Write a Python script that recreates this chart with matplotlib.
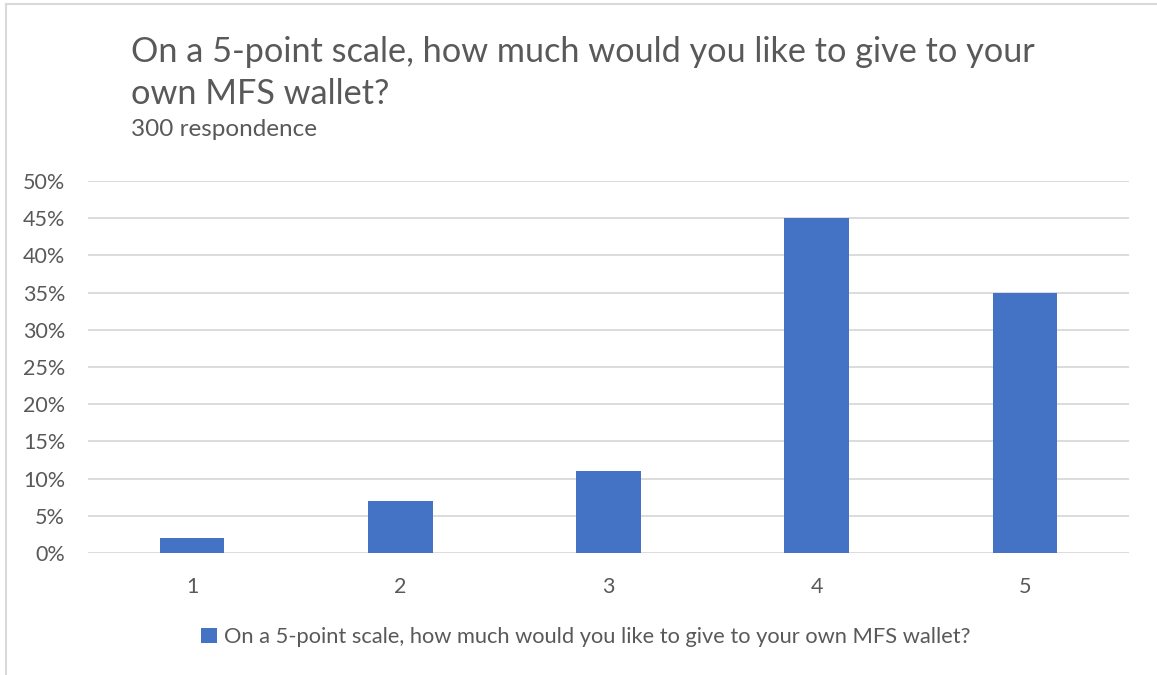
import matplotlib.pyplot as plt
from matplotlib.ticker import PercentFormatter
from matplotlib.lines import Line2D
from matplotlib.patches import Patch

# Data
categories = ['1', '2', '3', '4', '5']
shares = [2, 7, 11, 45, 35]
series_name = 'On a 5-point scale, how much would you like to give to your own MFS wallet?'
title_lines = ['On a 5-point scale, how much would you like to give to your',
               'own MFS wallet?']
subtitle_text = '300 respondence'

W, H = 1157, 675
bar_color = '#4472C4'
text_color = '#595959'
grid_color = '#D9D9D9'

plt.rcParams['font.family'] = ['Lato', 'DejaVu Sans']

fig = plt.figure(figsize=(W / 100, H / 100), dpi=100)
fig.patch.set_facecolor('white')

# Axes placed in pixel coords: x 88..1129, y 181..553
ax = fig.add_axes([88 / W, 1 - 553 / H, (1129 - 88) / W, (553 - 181) / H])
x = range(len(categories))
ax.bar(x, shares, width=0.31, color=bar_color, zorder=3)
ax.set_xlim(-0.5, len(categories) - 0.5)
ax.set_ylim(0, 50)
ax.set_yticks(range(0, 51, 5))
ax.yaxis.set_major_formatter(PercentFormatter(decimals=0))
ax.set_xticks(list(x))
ax.set_xticklabels(categories)
ax.grid(axis='y', color=grid_color, linewidth=1.3, zorder=0)
for s in ax.spines.values():
    s.set_visible(False)
ax.tick_params(length=0, labelsize=15.5, colors=text_color)
ax.tick_params(axis='x', pad=17)
ax.tick_params(axis='y', pad=16.5)

# Title (two lines, baselines at 62 and 104 px) and subtitle
for line, base in zip(title_lines, [62, 104]):
    fig.text(131 / W, 1 - base / H, line, fontsize=24.7, color=text_color,
             va='baseline', ha='left')
fig.text(131 / W, 1 - 136 / H, subtitle_text, fontsize=17.5, color=text_color,
         va='baseline', ha='left')

# Legend
handles = [Patch(facecolor=bar_color, label=series_name)]
fig.legend(handles=handles, loc='center', bbox_to_anchor=(586 / W, 1 - 637 / H),
           frameon=False, fontsize=15.75, labelcolor=text_color,
           handlelength=0.7, handleheight=0.7, handletextpad=0.35)

# Chart border (left and top edges visible)
fig.add_artist(Line2D([6 / W, 6 / W], [0, 1 - 4 / H], color=grid_color, linewidth=1.5))
fig.add_artist(Line2D([6 / W, 1], [1 - 4 / H, 1 - 4 / H], color=grid_color, linewidth=1.5))

fig.savefig('out.png', dpi=100)
